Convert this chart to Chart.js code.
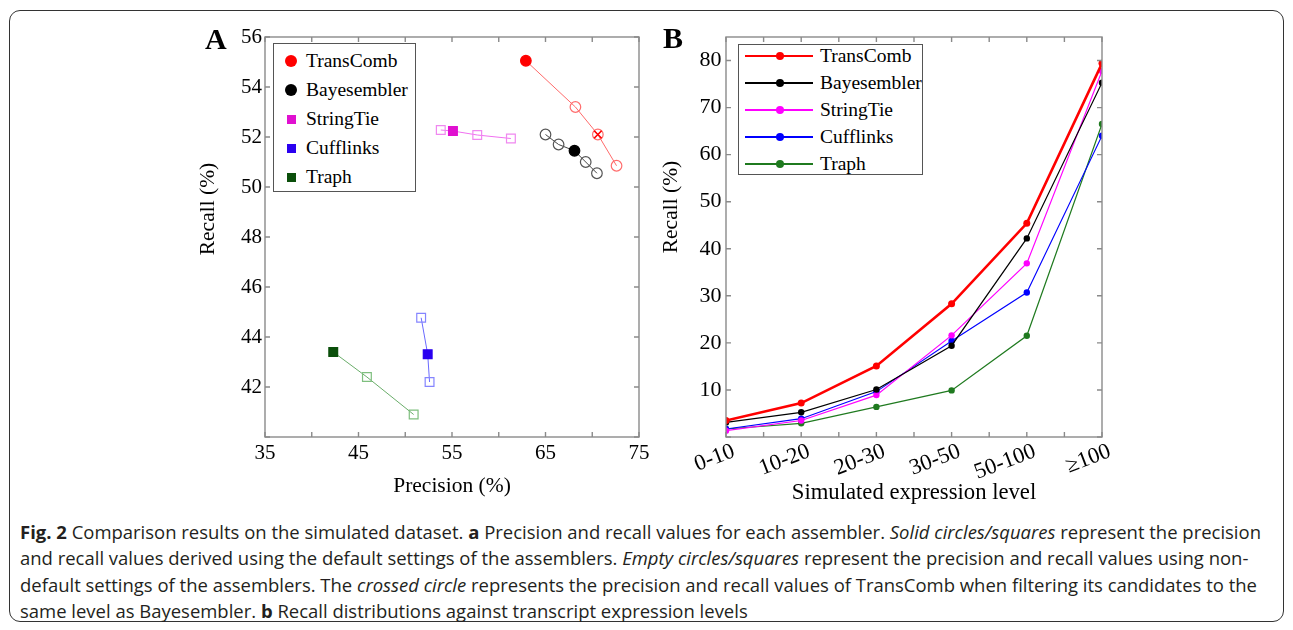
<!DOCTYPE html>
<html><head><meta charset="utf-8">
<script src="https://cdn.jsdelivr.net/npm/chart.js@4.4.0/dist/chart.umd.min.js"></script>
<style>
html,body{margin:0;padding:0;background:#fff;}
body{width:1293px;height:630px;position:relative;overflow:hidden;font-family:"Liberation Serif",serif;}
#frame{position:absolute;left:9px;top:10px;width:1275px;height:612px;border:1.5px solid #333;border-radius:11px;box-sizing:border-box;}
canvas{position:absolute;top:0;}
#cA{left:150px;}
#cB{left:620px;}
.plabel{position:absolute;font-weight:bold;font-size:30px;line-height:30px;font-family:"Liberation Serif",serif;}
.ytitle{position:absolute;font-size:21.5px;line-height:24px;white-space:nowrap;transform:translate(-50%,-50%) rotate(-90deg);}
.legend{position:absolute;border:1px solid #555;background:#fff;box-sizing:border-box;}
.li{position:absolute;left:0;height:22px;line-height:22px;white-space:nowrap;}
.li span.t{position:absolute;top:0;}
.mk{position:absolute;box-sizing:border-box;}
#caption{position:absolute;left:20px;top:519px;font-family:"Open Sans",sans-serif;font-size:16px;line-height:26.4px;color:#231f20;white-space:nowrap;}
#caption div{white-space:nowrap;}
</style></head>
<body>
<div id="frame"></div>
<canvas id="cA" width="510" height="500"></canvas>
<canvas id="cB" width="520" height="510"></canvas>
<div class="plabel" style="left:205px;top:24px;">A</div>
<div class="plabel" style="left:663px;top:23px;">B</div>
<div class="ytitle" style="left:206.5px;top:209px;">Recall (%)</div>
<div class="ytitle" style="left:670px;top:207px;">Recall (%)</div>
<div class="legend" id="legA" style="left:273px;top:43px;width:143px;height:149px;"></div>
<div class="legend" id="legB" style="left:738px;top:44px;width:185px;height:131px;"></div>
<div id="caption">
<div id="cap1"><b>Fig. 2</b> Comparison results on the simulated dataset. <b>a</b> Precision and recall values for each assembler. <i>Solid circles/squares</i> represent the precision</div>
<div>and recall values derived using the default settings of the assemblers. <i>Empty circles/squares</i> represent the precision and recall values using non-</div>
<div>default settings of the assemblers. The <i>crossed circle</i> represents the precision and recall values of TransComb when filtering its candidates to the</div>
<div>same level as Bayesembler. <b>b</b> Recall distributions against transcript expression levels</div>
</div>
<script>
// ---------- DATA ----------
const assemblers = ['TransComb', 'Bayesembler', 'StringTie', 'Cufflinks', 'Traph'];

// Panel A: precision / recall (%) for each setting
const precisionTransComb   = [62.9, 68.2, 70.6, 72.6];
const recallTransComb      = [55.05, 53.2, 52.1, 50.85];
const precisionBayesembler = [65.0, 66.4, 68.1, 69.3, 70.5];
const recallBayesembler    = [52.1, 51.7, 51.45, 51.0, 50.55];
const precisionStringTie   = [53.8, 55.1, 57.7, 61.3];
const recallStringTie      = [52.28, 52.24, 52.08, 51.94];
const precisionCufflinks   = [51.7, 52.4, 52.6];
const recallCufflinks      = [44.77, 43.31, 42.2];
const precisionTraph       = [42.3, 45.9, 50.9];
const recallTraph          = [43.4, 42.4, 40.9];
const defaultSettingIndex  = [0, 2, 1, 1, 0];   // solid marker = default settings
const crossedIndexTransComb = 2;                  // crossed circle

const xTicksA = [35, 45, 55, 65, 75];
const yTicksA = [42, 44, 46, 48, 50, 52, 54, 56];

// Panel B: recall (%) by simulated expression level
const expressionLevels   = ['0-10', '10-20', '20-30', '30-50', '50-100', '\u2265100'];
const recallByLevelTransComb   = [3.5, 7.2, 15.1, 28.3, 45.4, 79.4];
const recallByLevelBayesembler = [3.1, 5.25, 10.1, 19.4, 42.2, 75.3];
const recallByLevelStringTie   = [1.35, 3.5, 8.9, 21.6, 36.9, 77.8];
const recallByLevelCufflinks   = [1.7, 3.9, 9.65, 20.4, 30.7, 64.0];
const recallByLevelTraph       = [1.7, 2.9, 6.4, 9.9, 21.5, 66.5];
const yTicksB = [10, 20, 30, 40, 50, 60, 70, 80];

// ---------- STYLES ----------
const styleA = [
  {shape:'circle', solid:'#ff0000', light:'#ff6e6e', line:'#ff6a6a'},
  {shape:'circle', solid:'#000000', light:'#555555', line:'#444444'},
  {shape:'rect',   solid:'#e010d0', light:'#f088f0', line:'#f070f0'},
  {shape:'rect',   solid:'#2a00f0', light:'#8585ff', line:'#6a6aff'},
  {shape:'rect',   solid:'#0b4f0b', light:'#7fbf7f', line:'#6aad6a'}
];
const styleB = [
  {color:'#ff0000', width:2.6, r:3.5},
  {color:'#000000', width:1.2, r:3.2},
  {color:'#ff00ff', width:1.2, r:3.2},
  {color:'#0000ff', width:1.1, r:3.2},
  {color:'#1f7a1f', width:1.2, r:3.2}
];

const serif = '"Liberation Serif", "Times New Roman", serif';
const axisColor = '#8a8a8a';

const inwardTicks = {
  id: 'inwardTicks',
  afterDraw(chart, args, o) {
    const {ctx, chartArea: a, scales} = chart;
    const near = (v, base, step) => Math.abs((v - base) / step - Math.round((v - base) / step)) < 1e-6;
    ctx.save();
    ctx.strokeStyle = o.color;
    ctx.lineWidth = o.width;
    ctx.beginPath();
    scales.x.ticks.forEach(t => {
      if (!near(t.value, o.xBase, o.xStep)) return;
      const px = scales.x.getPixelForValue(t.value);
      ctx.moveTo(px, a.bottom); ctx.lineTo(px, a.bottom - o.len);
      ctx.moveTo(px, a.top); ctx.lineTo(px, a.top + o.len);
    });
    scales.y.ticks.forEach(t => {
      if (!near(t.value, o.yBase, o.yStep)) return;
      const py = scales.y.getPixelForValue(t.value);
      ctx.moveTo(a.left, py); ctx.lineTo(a.left + o.len, py);
      ctx.moveTo(a.right, py); ctx.lineTo(a.right - o.len, py);
    });
    ctx.stroke();
    ctx.strokeRect(a.left, a.top, a.right - a.left, a.bottom - a.top);
    ctx.restore();
  }
};

// ---------- PANEL A ----------
const precA = [precisionTransComb, precisionBayesembler, precisionStringTie, precisionCufflinks, precisionTraph];
const recA  = [recallTransComb, recallBayesembler, recallStringTie, recallCufflinks, recallTraph];

const datasetsA = assemblers.map((name, k) => {
  const s = styleA[k], d = defaultSettingIndex[k];
  return {
    label: name,
    data: precA[k].map((x, i) => ({x: x, y: recA[k][i]})),
    showLine: true,
    borderColor: s.line,
    borderWidth: 1,
    pointStyle: s.shape,
    pointRadius: precA[k].map((_, i) => s.shape === 'circle' ? 5.3 : 6.2),
    pointBackgroundColor: precA[k].map((_, i) => i === d ? s.solid : 'rgba(0,0,0,0)'),
    pointBorderColor: precA[k].map((_, i) => i === d ? s.solid : s.light),
    pointBorderWidth: 1.2,
    order: k
  };
});
datasetsA.push({
  label: 'crossed',
  data: [{x: precisionTransComb[crossedIndexTransComb], y: recallTransComb[crossedIndexTransComb]}],
  showLine: false,
  pointStyle: 'crossRot',
  pointRadius: 5.3,
  pointBorderColor: '#ff0000',
  pointBorderWidth: 1.6,
  order: -1
});

new Chart(document.getElementById('cA'), {
  type: 'scatter',
  data: {datasets: datasetsA},
  plugins: [inwardTicks],
  options: {
    responsive: false, animation: false, events: [],
    layout: {padding: {left: 0, top: 37, right: 21, bottom: 0}},
    plugins: {
      legend: {display: false}, tooltip: {enabled: false},
      inwardTicks: {color: axisColor, width: 1.4, len: 5, xBase: 35, xStep: 5, yBase: 40, yStep: 2}
    },
    scales: {
      x: {
        type: 'linear', min: 35, max: 75,
        grid: {display: false, drawTicks: false}, border: {display: false},
        ticks: {stepSize: 5, autoSkip: false, maxRotation: 0, padding: 4, color: '#000',
          font: {family: serif, size: 21},
          callback: v => xTicksA.includes(v) ? String(v) : ''},
        title: {display: true, text: 'Precision (%)', color: '#000',
          font: {family: serif, size: 21.5}, padding: {top: 0, bottom: 1}},
        afterFit: s => { s.height = 63; }
      },
      y: {
        type: 'linear', min: 40, max: 56,
        grid: {display: false, drawTicks: false}, border: {display: false},
        ticks: {stepSize: 2, autoSkip: false, padding: 3, color: '#000',
          font: {family: serif, size: 21},
          callback: v => yTicksA.includes(v) ? String(v) : ''},
        afterFit: s => { s.width = 115; }
      }
    }
  }
});

// ---------- PANEL B ----------
const recB = [recallByLevelTransComb, recallByLevelBayesembler, recallByLevelStringTie, recallByLevelCufflinks, recallByLevelTraph];
const datasetsB = assemblers.map((name, k) => ({
  label: name,
  data: recB[k].map((v, i) => ({x: i, y: v})),
  showLine: true,
  borderColor: styleB[k].color,
  borderWidth: styleB[k].width,
  pointStyle: 'circle',
  pointRadius: styleB[k].r,
  pointBackgroundColor: styleB[k].color,
  pointBorderColor: styleB[k].color,
  pointBorderWidth: 0,
  order: k
}));

new Chart(document.getElementById('cB'), {
  type: 'scatter',
  data: {datasets: datasetsB},
  plugins: [inwardTicks],
  options: {
    responsive: false, animation: false, events: [],
    layout: {padding: {left: 0, top: 37, right: 38, bottom: 0}},
    plugins: {
      legend: {display: false}, tooltip: {enabled: false},
      inwardTicks: {color: axisColor, width: 1.4, len: 5, xBase: 0, xStep: 0.5, yBase: 0, yStep: 10}
    },
    scales: {
      x: {
        type: 'linear', min: 0, max: expressionLevels.length - 1,
        grid: {display: false, drawTicks: false}, border: {display: false},
        ticks: {stepSize: 0.5, autoSkip: false, minRotation: 21, maxRotation: 21, padding: 1,
          labelOffset: 8, color: '#000', font: {family: serif, size: 22.5},
          callback: v => Number.isInteger(v) ? expressionLevels[v] : ''},
        title: {display: true, text: 'Simulated expression level', color: '#000',
          font: {family: serif, size: 22.7}, padding: {top: 0, bottom: 3.5}},
        afterFit: s => { s.height = 73; }
      },
      y: {
        type: 'linear', min: 0, max: 85,
        grid: {display: false, drawTicks: false}, border: {display: false},
        ticks: {autoSkip: false, padding: 4.5, color: '#000',
          font: {family: serif, size: 22},
          callback: v => yTicksB.includes(v) ? String(v) : ''},
        afterBuildTicks: s => { s.ticks = [0].concat(yTicksB).map(v => ({value: v})); },
        afterFit: s => { s.width = 106; }
      }
    }
  }
});

// ---------- HTML LEGENDS ----------
const legA = document.getElementById('legA');
assemblers.forEach((name, k) => {
  const s = styleA[k];
  const row = document.createElement('div');
  row.className = 'li';
  row.style.top = (18 + 29 * k - 11 - 1) + 'px';
  row.style.width = '100%';
  const m = document.createElement('div');
  m.className = 'mk';
  const sz = s.shape === 'circle' ? 12 : 9;
  m.style.width = sz + 'px'; m.style.height = sz + 'px';
  m.style.left = (17 - sz / 2) + 'px'; m.style.top = (11 - sz / 2) + 'px';
  m.style.background = s.solid;
  if (s.shape === 'circle') m.style.borderRadius = '50%';
  row.appendChild(m);
  const t = document.createElement('span');
  t.className = 't'; t.textContent = name;
  t.style.left = '32px'; t.style.fontSize = '19.5px';
  row.appendChild(t);
  legA.appendChild(row);
});

const legB = document.getElementById('legB');
assemblers.forEach((name, k) => {
  const s = styleB[k];
  const row = document.createElement('div');
  row.className = 'li';
  row.style.top = (12 + 27 * k - 11 - 1) + 'px';
  row.style.width = '100%';
  const ln = document.createElement('div');
  ln.className = 'mk';
  ln.style.left = '6px'; ln.style.width = '68px';
  ln.style.height = s.width + 'px';
  ln.style.top = (11 - s.width / 2) + 'px';
  ln.style.background = s.color;
  row.appendChild(ln);
  const dot = document.createElement('div');
  dot.className = 'mk';
  dot.style.width = '8px'; dot.style.height = '8px'; dot.style.borderRadius = '50%';
  dot.style.left = '37px'; dot.style.top = '7px';
  dot.style.background = s.color;
  row.appendChild(dot);
  const t = document.createElement('span');
  t.className = 't'; t.textContent = name;
  t.style.left = '81px'; t.style.fontSize = '19.5px';
  row.appendChild(t);
  legB.appendChild(row);
});

// ---------- caption fitting ----------
(function fitCaption(){
  const cap = document.getElementById('caption');
  const l1 = document.getElementById('cap1');
  const r = document.createRange(); r.selectNodeContents(l1);
  const w = r.getBoundingClientRect().width;
  const target = 1242;
  cap.style.fontSize = (16 * target / w).toFixed(3) + 'px';
})();
</script>
</body></html>
